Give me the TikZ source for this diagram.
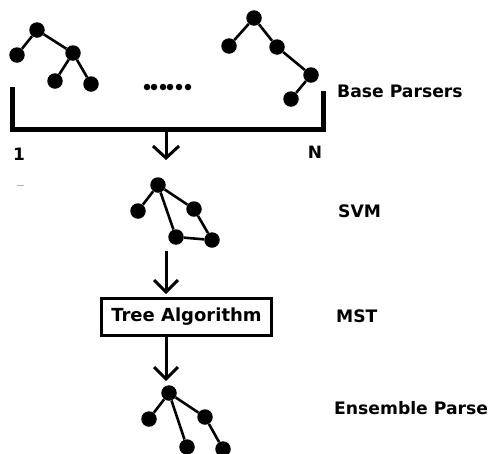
\documentclass[tikz,border=0pt]{standalone}
\usepackage{fontspec}
\setmainfont{DejaVu Sans}
\begin{document}
\begin{tikzpicture}[x=1pt,y=-1pt,
  vtx/.style={circle,fill=black,inner sep=0pt,minimum size=15.5pt},
  edge/.style={line width=2.6pt},
  flow/.style={line width=3pt},
  lbl/.style={font=\bfseries\fontsize{17.2}{19}\selectfont,anchor=west,inner sep=0pt},
  dotv/.style={circle,fill=black,inner sep=0pt,minimum size=6.5pt}]
\clip (0,0) rectangle (489,453);
\fill[white] (0,0) rectangle (489,453);
% tree 1
\node[vtx] (a1) at (37,30) {};
\node[vtx] (a2) at (17,55) {};
\node[vtx] (a3) at (73,53) {};
\node[vtx] (a4) at (55,81) {};
\node[vtx] (a5) at (91,84) {};
\draw[edge] (a1)--(a2) (a1)--(a3) (a3)--(a4) (a3)--(a5);
% tree N
\node[vtx] (b1) at (254,18) {};
\node[vtx] (b2) at (229,46) {};
\node[vtx] (b3) at (277,47) {};
\node[vtx] (b4) at (311,75) {};
\node[vtx] (b5) at (291,99) {};
\draw[edge] (b1)--(b2) (b1)--(b3) (b3)--(b4) (b4)--(b5);
% dots
\foreach \x [count=\i] in {147,154,163,170,179,188} \node[dotv] (d\i) at (\x,87) {};
% bracket
\coordinate (bl) at (12,87);
\coordinate (br) at (323,91);
\coordinate (bm) at (166,129);
\draw[line width=5pt] (bl) |- (br |- bm) -- (br);
% labels 1 and N
\node[font=\bfseries\fontsize{17}{19}\selectfont,inner sep=0pt] (one) at (19,154) {1};
\node[font=\bfseries\fontsize{17}{19}\selectfont,inner sep=0pt] (en) at (315,152) {N};
\draw[gray!60,line width=1pt] (17,185) -- (24,185);
% arrow 1
\coordinate (ar1) at (166,158);
\draw[flow] (bm) -- (ar1);
\draw[flow] (153,146) -- (ar1) -- (179,146);
% SVM tree
\node[vtx] (s1) at (158,185) {};
\node[vtx] (s2) at (138,211) {};
\node[vtx] (s3) at (194,209) {};
\node[vtx] (s4) at (176,237) {};
\node[vtx] (s5) at (212,240) {};
\draw[edge] (s1)--(s2) (s1)--(s3) (s1)--(s4) (s3)--(s5) (s4)--(s5);
% arrow 2
\coordinate (a2t) at (166,251);
\coordinate (a2b) at (166,292);
\draw[flow] (a2t) -- (a2b);
\draw[flow] (154,280) -- (a2b) -- (178,280);
% box
\node[draw,line width=2.6pt,minimum width=170pt,minimum height=37pt,inner sep=0pt,
  font=\bfseries\fontsize{18}{20}\selectfont] (box) at (186.5,317) {Tree Algorithm};
% arrow 3
\coordinate (a3b) at (166,379);
\draw[flow] (box.south -| a3b) -- (a3b);
\draw[flow] (154,367) -- (a3b) -- (178,367);
% ensemble tree
\node[vtx] (e1) at (169,393) {};
\node[vtx] (e2) at (149,419) {};
\node[vtx] (e3) at (205,417) {};
\node[vtx] (e4) at (187,447) {};
\node[vtx] (e5) at (223,449) {};
\draw[edge] (e1)--(e2) (e1)--(e3) (e1)--(e4) (e3)--(e5);
% right labels
\node[lbl] (l1) at (337,91) {Base Parsers};
\node[lbl] (l2) at (338,211) {SVM};
\node[lbl] (l3) at (336,316) {MST};
\node[lbl] (l4) at (334,408) {Ensemble Parse};
\end{tikzpicture}
\end{document}
